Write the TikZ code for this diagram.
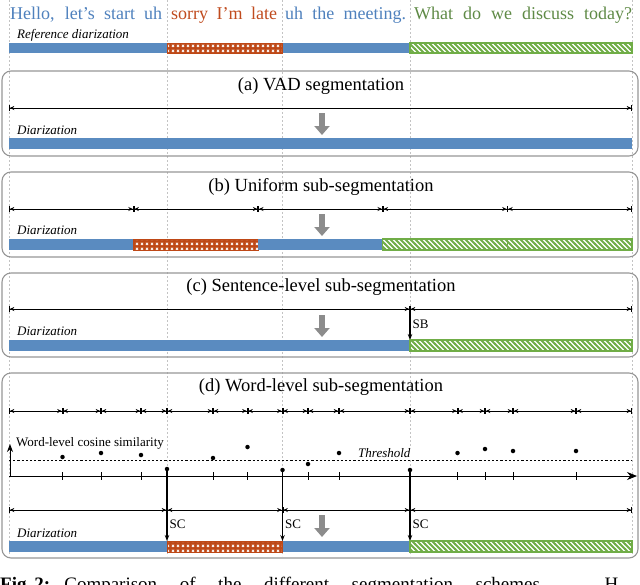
\documentclass[tikz,border=0pt]{standalone}
\usepackage{fontspec}
\setmainfont{Liberation Serif}
\usetikzlibrary{arrows.meta,patterns}

\definecolor{barblue}{RGB}{90,139,192}
\definecolor{txtblue}{RGB}{79,129,189}
\definecolor{barred}{RGB}{190,72,22}
\definecolor{txtred}{RGB}{192,75,30}
\definecolor{bargreen}{RGB}{112,173,71}
\definecolor{txtgreen}{RGB}{95,138,70}
\definecolor{panelgray}{RGB}{150,150,150}
\definecolor{guidegray}{RGB}{195,195,195}
\definecolor{arrowgray}{RGB}{140,140,140}

\pgfdeclarepatternformonly{gstripes}{\pgfqpoint{-1pt}{-1pt}}{\pgfqpoint{6pt}{6pt}}{\pgfqpoint{5pt}{5pt}}{%
  \pgfsetlinewidth{1.9pt}%
  \pgfpathmoveto{\pgfqpoint{-0.5pt}{5.5pt}}\pgfpathlineto{\pgfqpoint{5.5pt}{-0.5pt}}%
  \pgfusepath{stroke}}
\pgfdeclarepatternformonly{rcross}{\pgfqpoint{0pt}{0pt}}{\pgfqpoint{4.5pt}{4.5pt}}{\pgfqpoint{4.5pt}{4.5pt}}{%
  \pgfsetlinewidth{0.75pt}%
  \pgfpathmoveto{\pgfqpoint{1pt}{1pt}}\pgfpathlineto{\pgfqpoint{3.5pt}{3.5pt}}%
  \pgfpathmoveto{\pgfqpoint{1pt}{3.5pt}}\pgfpathlineto{\pgfqpoint{3.5pt}{1pt}}%
  \pgfusepath{stroke}}

\tikzset{
  guide/.style={guidegray, dashed, dash pattern=on 2pt off 2pt, line width=0.6pt},
  panel/.style={draw=panelgray, rounded corners=9pt, line width=1.1pt},
  title/.style={font=\fontsize{18.5}{20}\selectfont, inner sep=0pt},
  toptext/.style={font=\fontsize{18}{20}\selectfont, inner sep=0pt, anchor=base west},
  lab/.style={font=\fontsize{13}{15}\selectfont\itshape, inner sep=0pt, anchor=west},
  uplab/.style={font=\fontsize{13}{15}\selectfont, inner sep=0pt, anchor=west},
  blueseg/.style={fill=barblue},
  redseg/.style={preaction={fill=barred}, pattern=rcross, pattern color=white, draw=barred, line width=0.8pt},
  greenseg/.style={preaction={fill=white}, pattern=gstripes, pattern color=bargreen, draw=bargreen, line width=1.2pt},
  segrow/.style={line width=0.8pt, {Bar[width=6pt]Stealth[length=4.5pt,width=4pt]}-{Stealth[length=4.5pt,width=4pt]Bar[width=6pt]}},
  graydown/.style={arrowgray, line width=6.5pt, -{Triangle[length=9pt,width=15pt]}},
  cutarrow/.style={line width=1.1pt, -{Stealth[length=6pt,width=4.5pt]}},
  dot/.style={circle, fill=black, inner sep=0pt, minimum size=4.5pt},
}

\begin{document}
\begin{tikzpicture}[x=1pt,y=-1pt]
\useasboundingbox (0,0) rectangle (640,584);
\clip (0,0) rectangle (640,584);

% vertical guides
\foreach \gx [count=\i] in {9,167,282.5,410,632} {
  \coordinate (gt\i) at (\gx,0);
  \coordinate (gb\i) at (\gx,556);
  \draw[guide] (gt\i) -- (gb\i);
}

% top transcript
\node[toptext, text=txtblue] (s1) at (10,19.5) {\makebox[152pt][s]{Hello, let's start uh}};
\node[toptext, text=txtred] (s2) at (171,19.5) {\makebox[106pt][s]{sorry I'm late}};
\node[toptext, text=txtblue] (s3) at (285,19.5) {\makebox[121pt][s]{uh the meeting.}};
\node[toptext, text=txtgreen] (s4) at (414,19.5) {\makebox[218pt][s]{What do we discuss today?}};
\node[lab] (refl) at (17,35) {Reference diarization};
\fill[blueseg] (9,43) rectangle (167,53);
\draw[redseg] (167,43) rectangle (282.5,53);
\fill[blueseg] (282.5,43) rectangle (410,53);
\draw[greenseg] (410,43) rectangle (632,53);

% ---------- (a)
\draw[panel] (2,71) rectangle (638,156);
\node[title] (ta) at (321,86) {(a) VAD segmentation};
\coordinate (a0) at (9,108); \coordinate (a1) at (632,108);
\draw[segrow] (a0) -- (a1);
\coordinate (ga0) at (322,113); \coordinate (ga1) at (322,135);
\draw[graydown] (ga0) -- (ga1);
\node[lab] (da) at (17,130) {Diarization};
\fill[blueseg] (9,138) rectangle (632,149);

% ---------- (b)
\draw[panel] (2,172) rectangle (638,257);
\node[title] (tb) at (321,187) {(b) Uniform sub-segmentation};
\foreach \xa/\xb [count=\i] in {9/133.6,133.6/258.2,258.2/382.8,382.8/507.4,507.4/632} {
  \coordinate (bl\i) at (\xa,209); \coordinate (br\i) at (\xb,209);
  \draw[segrow] (bl\i) -- (br\i);
}
\coordinate (gb0) at (322,214); \coordinate (gb9) at (322,236);
\draw[graydown] (gb0) -- (gb9);
\node[lab] (db) at (17,230) {Diarization};
\fill[blueseg] (9,239) rectangle (133.6,250);
\draw[redseg] (133.6,239) rectangle (258.2,250);
\fill[blueseg] (258.2,239) rectangle (382.8,250);
\draw[greenseg] (382.8,239) rectangle (507.4,250);
\draw[greenseg] (507.4,239) rectangle (632,250);

% ---------- (c)
\draw[panel] (2,273) rectangle (638,357);
\node[title] (tc) at (321,287) {(c) Sentence-level sub-segmentation};
\coordinate (c0) at (9,309); \coordinate (c1) at (410,309); \coordinate (c2) at (632,309);
\draw[segrow] (c0) -- (c1);
\draw[segrow] (c1) -- (c2);
\coordinate (sbend) at (410,340);
\draw[cutarrow] (c1) -- (sbend);
\node[uplab] (sb) at (412.5,324) {SB};
\coordinate (gc0) at (322,315); \coordinate (gc1) at (322,337);
\draw[graydown] (gc0) -- (gc1);
\node[lab] (dc) at (17,331) {Diarization};
\fill[blueseg] (9,340) rectangle (410,351);
\draw[greenseg] (410,340) rectangle (632,351);

% ---------- (d)
\draw[panel] (2,373) rectangle (638,558);
\node[title] (td) at (321,387) {(d) Word-level sub-segmentation};
\foreach \xa/\xb [count=\i] in {9/62.5,62.5/101,101/141,141/167,167/213,213/247.5,247.5/282.5,282.5/308,308/339,339/410,410/457.5,457.5/485,485/513,513/576,576/632} {
  \coordinate (wl\i) at (\xa,411); \coordinate (wr\i) at (\xb,411);
  \draw[segrow] (wl\i) -- (wr\i);
}
% similarity axis
\coordinate (ya0) at (10,477); \coordinate (ya1) at (10,444);
\draw[line width=0.9pt, -{Stealth[length=8pt,width=6pt]}] (ya0) -- (ya1);
\node[uplab] (wcs) at (16,443) {Word-level cosine similarity};
\coordinate (th0) at (9,460); \coordinate (th1) at (632,460);
\draw[line width=0.9pt, dash pattern=on 2.2pt off 2pt] (th0) -- (th1);
\node[lab, fill=white, inner sep=1pt] (thr) at (357,453) {Threshold};
\coordinate (xa0) at (9,476); \coordinate (xa1) at (637,476);
\draw[line width=0.9pt, -{Stealth[length=10pt,width=8pt]}] (xa0) -- (xa1);
% ticks
\foreach \tx [count=\i] in {62.5,101,141,213,247.5,308,339,457.5,485,513,576} {
  \coordinate (tk\i a) at (\tx,472); \coordinate (tk\i b) at (\tx,480);
  \draw[line width=0.9pt] (tk\i a) -- (tk\i b);
}
% similarity dots
\foreach \dx/\dy [count=\i] in {62.5/457,101/453,141/455,167/469,213/458,247.5/447,282.5/470,308/464,339/453,410/470,457.5/453,485/449,513/451,576/451} {
  \node[dot] (p\i) at (\dx,\dy) {};
}
% second segment row
\foreach \xa/\xb [count=\i] in {9/167,167/282.5,282.5/410,410/632} {
  \coordinate (ql\i) at (\xa,510); \coordinate (qr\i) at (\xb,510);
  \draw[segrow] (ql\i) -- (qr\i);
}
% change points
\coordinate (sc1) at (167,541); \coordinate (sc2) at (282.5,541); \coordinate (sc3) at (410,541);
\draw[cutarrow] (p4.center) -- (sc1);
\draw[cutarrow] (p7.center) -- (sc2);
\draw[cutarrow] (p10.center) -- (sc3);
\node[uplab] (scl1) at (169.5,524) {SC};
\node[uplab] (scl2) at (285,524) {SC};
\node[uplab] (scl3) at (412.5,524) {SC};
\coordinate (gd0) at (322,515); \coordinate (gd1) at (322,537);
\draw[graydown] (gd0) -- (gd1);
\node[lab] (dd) at (17,533) {Diarization};
\fill[blueseg] (9,541) rectangle (167,552);
\draw[redseg] (167,541) rectangle (282.5,552);
\fill[blueseg] (282.5,541) rectangle (410,552);
\draw[greenseg] (410,541) rectangle (632,552);

% cropped caption
\node[anchor=base west, inner sep=0pt, font=\fontsize{19}{21}\selectfont] (cap) at (0,590)
  {\textbf{Fig.\,2:}\hspace{14pt}\makebox[554pt][s]{Comparison of the different segmentation schemes. H}};
\end{tikzpicture}
\end{document}
